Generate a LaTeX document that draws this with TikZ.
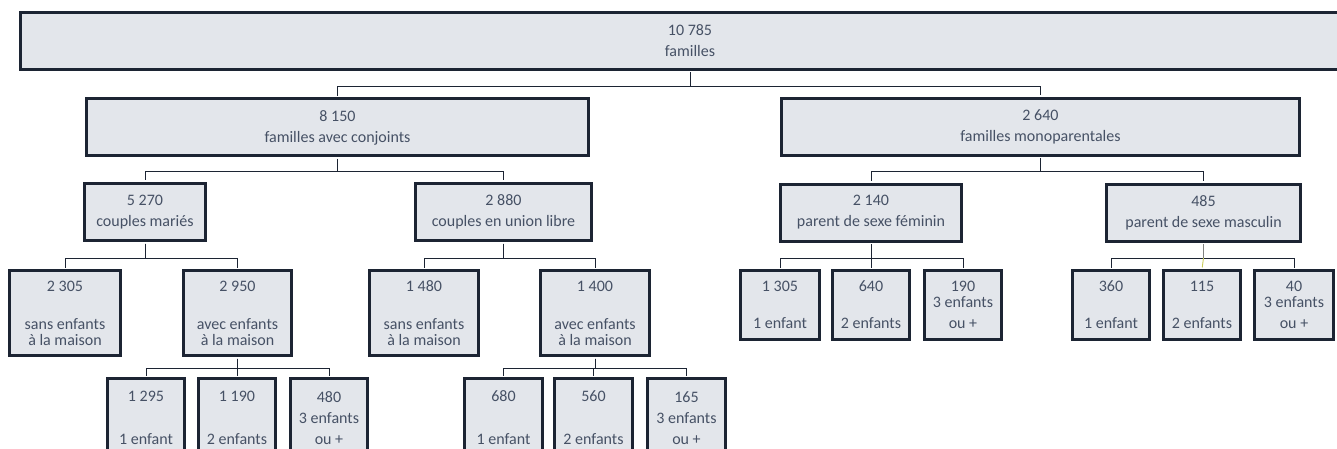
\documentclass[tikz,border=0pt]{standalone}
\usepackage{fontspec}
\setmainfont{Carlito}
\usepackage{tikz}
\usetikzlibrary{positioning, calc}
\definecolor{cadre}{HTML}{1C2433}
\definecolor{fond}{HTML}{E3E6EB}
\definecolor{texte}{HTML}{465165}
\definecolor{jaunet}{HTML}{C9CC5A}
\tikzset{
  famille/.style={draw=cadre, line width=3pt, fill=fond, text=texte, align=center,
                  inner sep=0pt, font=\fontsize{16}{21}\selectfont},
  niv0/.style={famille, minimum height=57},
  niv2/.style={famille, minimum height=57},
  niv3/.style={famille, minimum height=85},
  niv3b/.style={famille, minimum height=69},
  niv4/.style={famille, minimum height=79},
  lien/.style={draw=cadre, line width=0.9pt},
}

\begin{document}
\begin{tikzpicture}[x=1pt, y=-1pt]
  \clip (0,0) rectangle (1337,449);
  \fill[white] (0,0) rectangle (1337,449);

  % bus lines between levels
  \coordinate (b1) at (0,86);
  \coordinate (b2) at (0,171);
  \coordinate (b3) at (0,258);
  \coordinate (b4) at (0,368);

  \node[niv0, minimum width=1339] (tot) at (690,41) {10 785\\familles};

  \node[niv0, minimum width=502] (conj) at (337.5,127.5) {8 150\\familles avec conjoints};
  \node[niv0, minimum width=518] (mono) at (1040.5,127) {2 640\\familles monoparentales};

  \node[niv2, minimum width=121] (mar) at (145,212) {5 270\\couples mariés};
  \node[niv2, minimum width=176] (uni) at (503.5,212) {2 880\\couples en union libre};
  \node[niv2, minimum width=181] (fem) at (871,212.5) {2 140\\parent de sexe féminin};
  \node[niv2, minimum width=194] (mas) at (1203.5,212.5) {485\\parent de sexe masculin};

  \node[niv3, minimum width=111] (msans) at (65,313) {2 305\\[17pt]sans enfants\\[-5pt]à la maison};
  \node[niv3, minimum width=108] (mavec) at (237.5,313) {2 950\\[17pt]avec enfants\\[-5pt]à la maison};
  \node[niv3, minimum width=109] (usans) at (424,313) {1 480\\[17pt]sans enfants\\[-5pt]à la maison};
  \node[niv3, minimum width=109] (uavec) at (595,313) {1 400\\[17pt]avec enfants\\[-5pt]à la maison};

  \node[niv3b, minimum width=79] (f1) at (780,305) {1 305\\[16pt]1 enfant};
  \node[niv3b, minimum width=77] (f2) at (871,305) {640\\[16pt]2 enfants};
  \node[niv3b, minimum width=77] (f3) at (963,305) {190\\[-5pt]3 enfants\\ou +};
  \node[niv3b, minimum width=77] (h1) at (1111,305) {360\\[16pt]1 enfant};
  \node[niv3b, minimum width=77] (h2) at (1202,305) {115\\[16pt]2 enfants};
  \node[niv3b, minimum width=79] (h3) at (1294,305) {40\\[-5pt]3 enfants\\ou +};

  \node[niv4, minimum width=77] (ma1) at (146,418) {1 295\\[22pt]1 enfant};
  \node[niv4, minimum width=77] (ma2) at (237,418) {1 190\\[22pt]2 enfants};
  \node[niv4, minimum width=77] (ma3) at (329,418) {480\\3 enfants\\ou +};
  \node[niv4, minimum width=78] (ua1) at (503.5,418) {680\\[22pt]1 enfant};
  \node[niv4, minimum width=78] (ua2) at (593.5,418) {560\\[22pt]2 enfants};
  \node[niv4, minimum width=78] (ua3) at (686.5,418) {165\\3 enfants\\ou +};

  \foreach \p/\c/\b in {tot/conj/b1, tot/mono/b1,
                        conj/mar/b2, conj/uni/b2, mono/fem/b2, mono/mas/b2,
                        mar/msans/b3, mar/mavec/b3, uni/usans/b3, uni/uavec/b3,
                        fem/f1/b3, fem/f2/b3, fem/f3/b3, mas/h1/b3, mas/h3/b3,
                        mavec/ma1/b4, mavec/ma2/b4, mavec/ma3/b4,
                        uavec/ua1/b4, uavec/ua2/b4, uavec/ua3/b4} {
    \draw[lien, shorten <=1.5pt, shorten >=1.5pt] (\p.south) -- (\p.south |- \b) -| (\c.north);
  }
  % the odd one out
  \draw[lien, draw=gray, line width=1.2pt, shorten <=1.5pt] (mas.south) -- (mas.south |- b3);
  \draw[lien, draw=jaunet, shorten >=1.5pt] (mas.south |- b3) -- (h2.north);
\end{tikzpicture}
\end{document}
